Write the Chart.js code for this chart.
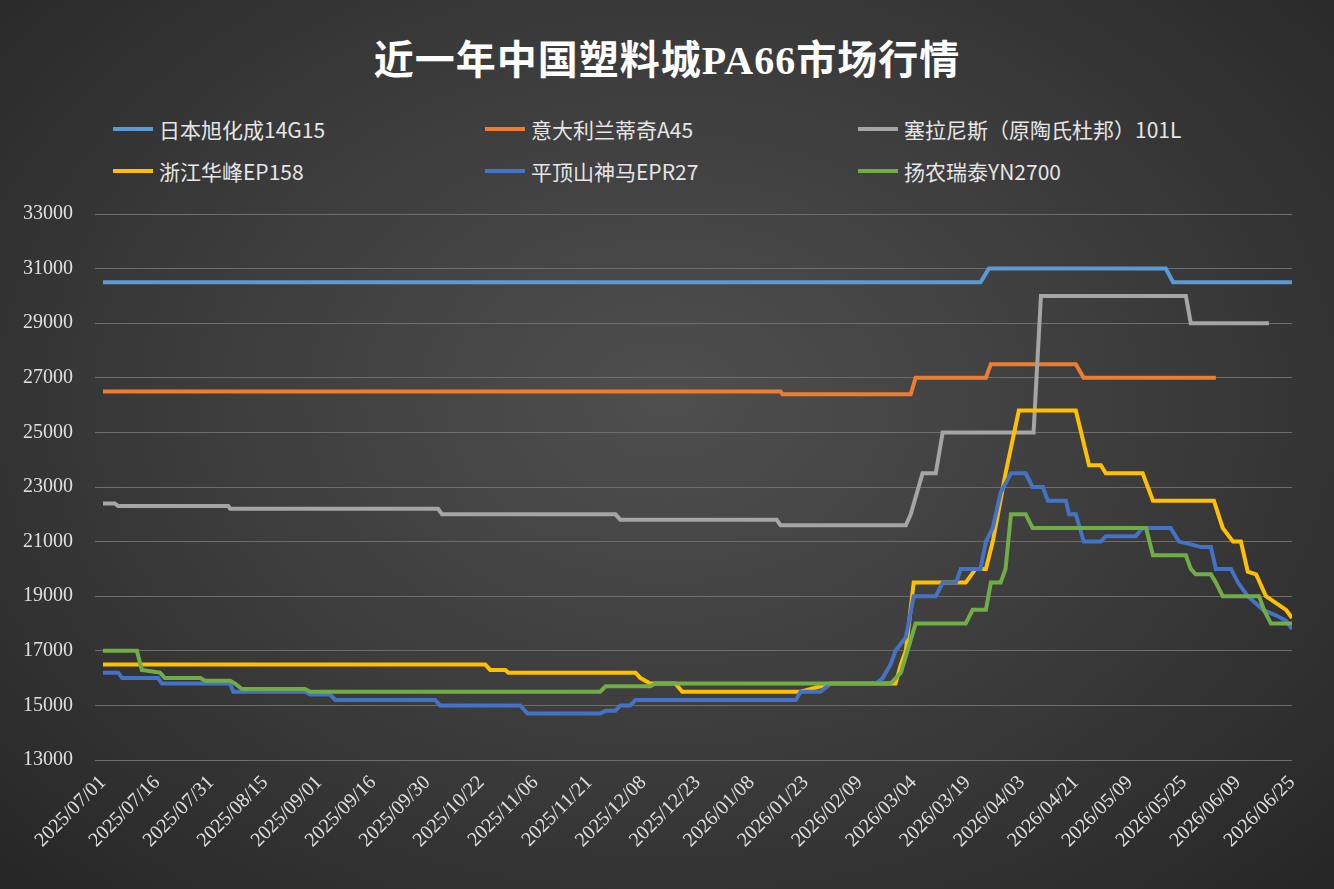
<!DOCTYPE html>
<html>
<head>
<meta charset="utf-8">
<script src="https://cdn.jsdelivr.net/npm/chart.js@4"></script>
<style>
  body { margin: 0; width: 1334px; height: 889px; overflow: hidden;
    background: radial-gradient(ellipse at 50% 45%, #4f4f4f 0%, #3a3a3a 55%, #262626 100%); }
  #title { position: absolute; top: 28px; width: 100%; text-align: center; color: #fff;
    font: bold 40px "Liberation Serif", "Noto Sans CJK SC", sans-serif; letter-spacing: 1px; }
  .leg { position: absolute; color: #e6e6e6; font: 21px "Noto Sans CJK SC", sans-serif; display: flex; align-items: center; }
  .leg i { display: inline-block; width: 40px; height: 4px; margin-right: 6px; }
  canvas { position: absolute; left: 0; top: 0; }
</style>
</head>
<body>
<div id="title">近一年中国塑料城PA66市场行情</div>
<div id="legend"></div>
<canvas id="c" width="1334" height="889"></canvas>
<script>
// x tick labels, one every 11 trading days
const tickLabels = ['2025/07/01','2025/07/16','2025/07/31','2025/08/15','2025/09/01','2025/09/16',
  '2025/09/30','2025/10/22','2025/11/06','2025/11/21','2025/12/08','2025/12/23','2026/01/08',
  '2026/01/23','2026/02/09','2026/03/04','2026/03/19','2026/04/03','2026/04/21','2026/05/09',
  '2026/05/25','2026/06/09','2026/06/25'];

const names = ['日本旭化成14G15','意大利兰蒂奇A45','塞拉尼斯（原陶氏杜邦）101L',
  '浙江华峰EP158','平顶山神马EPR27','扬农瑞泰YN2700'];
const colors = ['#5B9BD5','#ED7D31','#A5A5A5','#FFC000','#4472C4','#70AD47'];

// [day index, price] turning points
const asahi = [[0,30500],[178.6,30500],[180.3,31000],[216.3,31000],[217.8,30500],[242,30500]];
const radici = [[0,26500],[137.9,26500],[138.3,26400],[164.4,26400],[165.4,27000],[179.7,27000],
  [180.7,27500],[198,27500],[199.6,27000],[226.5,27000]];
const celanese = [[0,22400],[2.4,22400],[3.1,22300],[25.5,22300],[25.9,22200],[68.2,22200],[69,22000],
  [104.3,22000],[105.3,21800],[137.1,21800],[137.9,21600],[163.4,21600],[164.4,22000],[166,23000],
  [166.8,23500],[169.5,23500],[170.9,25000],[189.4,25000],[190.9,30000],[220.4,30000],[221.4,29000],[237.3,29000]];
const huafeng = [[0,16500],[77.8,16500],[78.8,16300],[81.9,16300],[82.5,16200],[108.4,16200],[109.4,16000],
  [111.4,15800],[116.5,15800],[117.9,15500],[142,15500],[148.1,15800],[161.3,15800],[162.4,16500],
  [163.4,17000],[165,19500],[175.6,19500],[177.6,20000],[179.7,20000],[181.1,21000],[183.7,23500],
  [186.4,25800],[198,25800],[200.7,23800],[203.1,23800],[204.1,23500],[211.6,23500],[213.7,22500],
  [226.1,22500],[227.9,21500],[230,21000],[231.6,21000],[233,19900],[234.7,19800],[236.7,19000],
  [240.8,18500],[242,18200]];
const shenma = [[0,16200],[3.1,16200],[3.9,16000],[11.2,16000],[12,15800],[25.9,15800],[26.5,15500],
  [41.1,15500],[42.2,15400],[46.2,15400],[47.3,15200],[67.6,15200],[68.6,15000],[84.9,15000],[86.4,14700],
  [101.2,14700],[102.3,14800],[104.3,14800],[105.3,15000],[107.3,15000],[108.4,15200],[141,15200],
  [142,15500],[146,15500],[148.1,15800],[157.3,15800],[158.7,16000],[160.3,16500],[161.3,17000],
  [163.4,17500],[165,19000],[169.5,19000],[170.9,19500],[173.6,19500],[174.6,20000],[178.6,20000],
  [179.7,21000],[181.1,21500],[182.7,22800],[184.8,23500],[187.8,23500],[189.2,23000],[191.3,23000],
  [192.3,22500],[196,22500],[196.6,22000],[198,22000],[199.6,21000],[203.1,21000],[204.1,21200],
  [210.2,21200],[211.6,21500],[217.3,21500],[219,21000],[221.4,20900],[223.5,20800],[225.5,20800],
  [226.5,20000],[229.6,20000],[231,19500],[233,19000],[236.1,18500],[238.7,18300],[240.8,18100],[242,17800]];
const yangnong = [[0,17000],[6.9,17000],[7.9,16300],[11.6,16200],[12.6,16000],[19.8,16000],[20.8,15900],
  [25.9,15900],[26.9,15800],[28.3,15600],[41.1,15600],[42.2,15500],[101.2,15500],[102.3,15700],
  [111.4,15700],[112.4,15800],[160.3,15800],[162.4,16200],[165.4,18000],[175.6,18000],[177,18500],
  [179.7,18500],[180.7,19500],[182.7,19500],[183.7,20000],[184.8,22000],[187.8,22000],[189.2,21500],
  [212.3,21500],[213.7,20500],[220.4,20500],[221.4,20000],[222.4,19800],[225.5,19800],[226.5,19500],
  [227.9,19000],[235.3,19000],[236.3,18500],[237.7,18000],[242,18000]];

const series = [asahi, radici, celanese, huafeng, shenma, yangnong];

// legend, 3 columns x 2 rows
const legendPos = [[113,114],[485,114],[858,114],[113,156],[485,156],[858,156]];
const legend = document.getElementById('legend');
names.forEach((n, i) => {
  const d = document.createElement('div');
  d.className = 'leg';
  d.style.left = legendPos[i][0] + 'px';
  d.style.top = legendPos[i][1] + 'px';
  d.innerHTML = `<i style="background:${colors[i]}"></i>${n}`;
  legend.appendChild(d);
});

new Chart(document.getElementById('c'), {
  type: 'line',
  data: {
    datasets: series.map((s, i) => ({
      label: names[i],
      data: s.map((p) => ({ x: p[0], y: p[1] })),
      borderColor: colors[i],
      borderWidth: 4,
      pointRadius: 0,
      tension: 0,
    })).reverse(),
  },
  options: {
    responsive: false,
    animation: false,
    layout: { padding: { top: 214, right: 42, left: 0, bottom: 0 } },
    plugins: { legend: { display: false }, tooltip: { enabled: false } },
    scales: {
      x: {
        type: 'linear', min: 0, max: 242,
        grid: { display: false }, border: { display: false },
        afterFit: (s) => { s.height = 129; },
        ticks: {
          stepSize: 11, autoSkip: false, maxRotation: 45, minRotation: 45,
          color: '#e0e0e0', font: { family: 'Liberation Serif', size: 20 },
          callback: (v) => tickLabels[v / 11] ?? '',
        },
      },
      y: {
        min: 13000, max: 33000,
        afterFit: (s) => { s.width = 103; },
        grid: { color: '#6e6e6e', lineWidth: 1 }, border: { display: false },
        ticks: { stepSize: 2000, color: '#e0e0e0', font: { family: 'Liberation Serif', size: 20 }, padding: 22,
          callback: (v) => String(v) },
      },
    },
  },
});
</script>
</body>
</html>
